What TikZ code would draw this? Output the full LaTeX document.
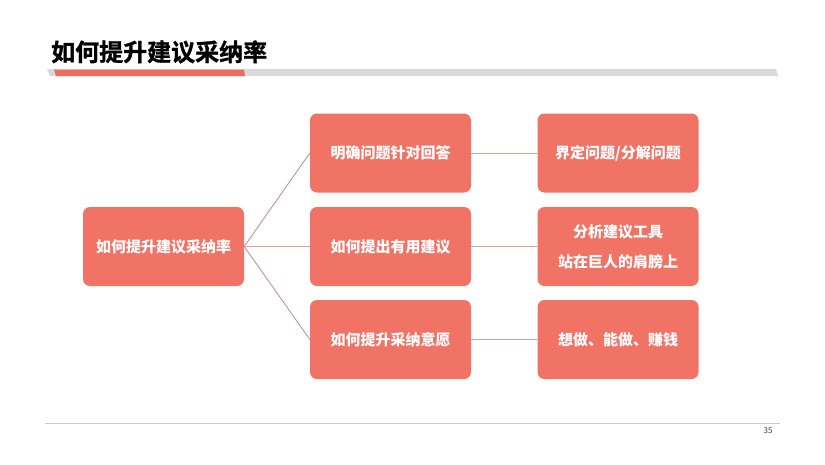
\documentclass[tikz,border=0pt]{standalone}
\usepackage{fontspec}
\newfontfamily\cjk{Noto Sans CJK SC}
\newfontfamily\cjktitle[FakeBold=1.2]{Noto Sans CJK SC Bold}
\setmainfont{Noto Sans CJK SC}
\definecolor{boxred}{HTML}{F17365}
\definecolor{barred}{HTML}{EF6B5B}
\definecolor{bargray}{HTML}{D9D9D9}
\definecolor{linkbrown}{HTML}{B39088}
\definecolor{linkpink}{HTML}{DDA39B}
\begin{document}
\begin{tikzpicture}[x=1pt,y=-1pt,
  box/.style={rectangle,rounded corners=7pt,fill=boxred,text=white,minimum width=161pt,minimum height=79pt,inner sep=0pt,font=\cjk\bfseries\fontsize{15}{15}\selectfont,align=center},
  link/.style={draw=linkbrown,line width=0.8pt},
  hlink/.style={draw=linkpink,line width=0.8pt}]
\useasboundingbox[fill=white] (0,0) rectangle (825,464);
% title
\node[anchor=base west,inner sep=0pt,font=\cjktitle\fontsize{24}{24}\selectfont] (title) at (51,61) {如何提升建议采纳率};
\fill[bargray] (47,69) -- (776,69) -- (778,76) -- (50,76) -- cycle;
\fill[barred] (54,69.5) -- (244,69.5) -- (245,76) -- (56,76) -- cycle;
% footer
\draw[draw=bargray!80!gray,line width=0.8pt] (45,423) -- (780,423);
\node[font=\fontsize{8}{8}\selectfont,text=black!75] (pg) at (768,431) {35};
% boxes
\node[box] (root) at (163.5,246.5) {如何提升建议采纳率};
\node[box] (m1) at (390.5,153) {明确问题针对回答};
\node[box] (m2) at (390.5,246.5) {如何提出有用建议};
\node[box] (m3) at (390.5,339.5) {如何提升采纳意愿};
\node[box] (r1) at (618,153) {界定问题/分解问题};
\node[box] (r2) at (618,246.5) {分析建议工具\\[15pt]站在巨人的肩膀上};
\node[box] (r3) at (618,339.5) {想做、能做、赚钱};
% connectors
\draw[link] (root.east) -- (m1.west);
\draw[hlink] (root.east) -- (m2.west);
\draw[link] (root.east) -- (m3.west);
\draw[hlink] (m1.east) -- (r1.west);
\draw[hlink] (m2.east) -- (r2.west);
\draw[hlink] (m3.east) -- (r3.west);
\end{tikzpicture}
\end{document}
